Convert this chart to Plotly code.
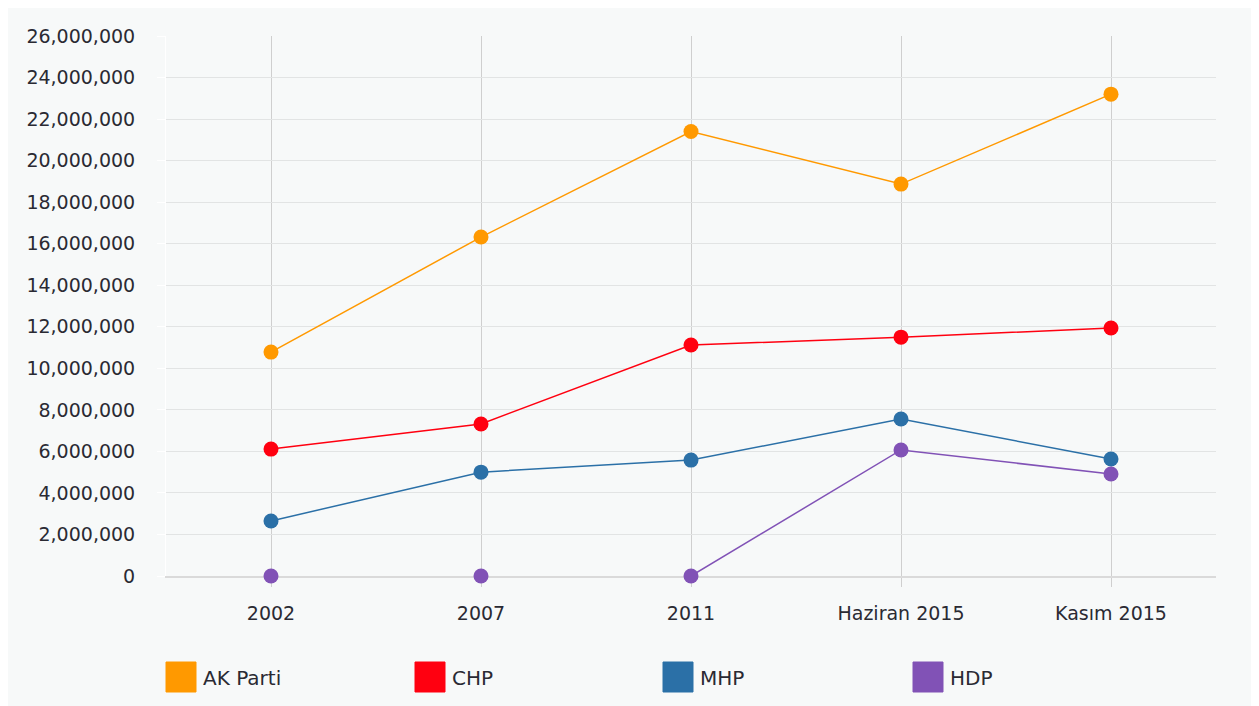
import plotly.graph_objects as go

categories = ["2002", "2007", "2011", "Haziran 2015", "Kasım 2015"]
series_names = ["AK Parti", "CHP", "MHP", "HDP"]
ak_parti = [10780000, 16320000, 21400000, 18870000, 23200000]
chp = [6110000, 7320000, 11120000, 11500000, 11940000]
mhp = [2650000, 5000000, 5580000, 7560000, 5630000]
hdp = [0, 0, 0, 6070000, 4910000]
colors = ["#FF9900", "#FF0010", "#2B70A7", "#8152B6"]

values = [ak_parti, chp, mhp, hdp]
FONT = "DejaVu Sans, Verdana, sans-serif"
TXT = "#2A2A33"


def visible_line(vals):
    # segments lying flat on the zero baseline are hidden behind the axis line
    out = []
    n = len(vals)
    for i, v in enumerate(vals):
        left = vals[i - 1] if i > 0 else 0
        right = vals[i + 1] if i < n - 1 else 0
        out.append(None if (v == 0 and left == 0 and right == 0) else v)
    return out


fig = go.Figure()
for name, vals, col in zip(series_names, values, colors):
    fig.add_trace(go.Scatter(
        x=categories, y=visible_line(vals), name=name, mode="lines",
        line=dict(color=col, width=1.5), connectgaps=False,
        showlegend=False, hoverinfo="skip", cliponaxis=False,
    ))
for name, vals, col in zip(series_names, values, colors):
    fig.add_trace(go.Scatter(
        x=categories, y=vals, name=name, mode="markers",
        marker=dict(color=col, size=15), cliponaxis=False,
        showlegend=False,
        hovertemplate="%{x}<br>" + name + ": %{y:,}<extra></extra>",
    ))

# page body has an 8px margin; compensate so the figure lands where the reference is
OFF = 8
W, H = 1259 - OFF, 706 - OFF
ml, mr, mt, mb = 166 - OFF, 43, 36 - OFF, 130
pw, ph = W - ml - mr, H - mt - mb


def px_to_paper_x(px):
    return (px - OFF - ml) / pw


def px_to_paper_y(py):
    return (H - mb - (py - OFF)) / ph


shapes = []
annotations = []
legend_x = [166, 415, 663, 913]
for lx, name, col in zip(legend_x, series_names, colors):
    shapes.append(dict(type="rect", xref="paper", yref="paper",
                       x0=px_to_paper_x(lx), x1=px_to_paper_x(lx + 30),
                       y0=px_to_paper_y(692), y1=px_to_paper_y(662),
                       fillcolor=col, line=dict(color=col, width=1)))
    annotations.append(dict(xref="paper", yref="paper", showarrow=False,
                            x=px_to_paper_x(lx + 35), y=px_to_paper_y(678),
                            xanchor="left", yanchor="middle", text=name,
                            font=dict(family=FONT, size=20, color=TXT)))

fig.update_layout(
    width=W, height=H,
    margin=dict(l=ml, r=mr, t=mt, b=mb),
    paper_bgcolor="#F7F9F9",
    plot_bgcolor="#F7F9F9",
    font=dict(family=FONT, size=19, color=TXT),
    shapes=shapes,
    annotations=annotations,
    showlegend=False,
    xaxis=dict(
        type="category", range=[-0.5, 4.5],
        showgrid=True, gridcolor="#CFCFCF", gridwidth=1,
        showline=True, linecolor="#DADADA", linewidth=2,
        ticks="outside", ticklen=9, tickcolor="#CFCFCF",
        ticklabelstandoff=10, layer="below traces",
        tickfont=dict(family=FONT, size=19, color=TXT),
        zeroline=False,
    ),
    yaxis=dict(
        range=[0, 26000000], dtick=2000000, tickformat=",d",
        showgrid=True, gridcolor="#E2E4E4", gridwidth=1,
        showline=True, linecolor="#FFFFFF", linewidth=1,
        ticks="outside", ticklen=8, tickcolor="#FFFFFF",
        ticklabelstandoff=18, layer="below traces",
        tickfont=dict(family=FONT, size=19, color=TXT),
        zeroline=False,
    ),
)

fig.write_html("out.html")
